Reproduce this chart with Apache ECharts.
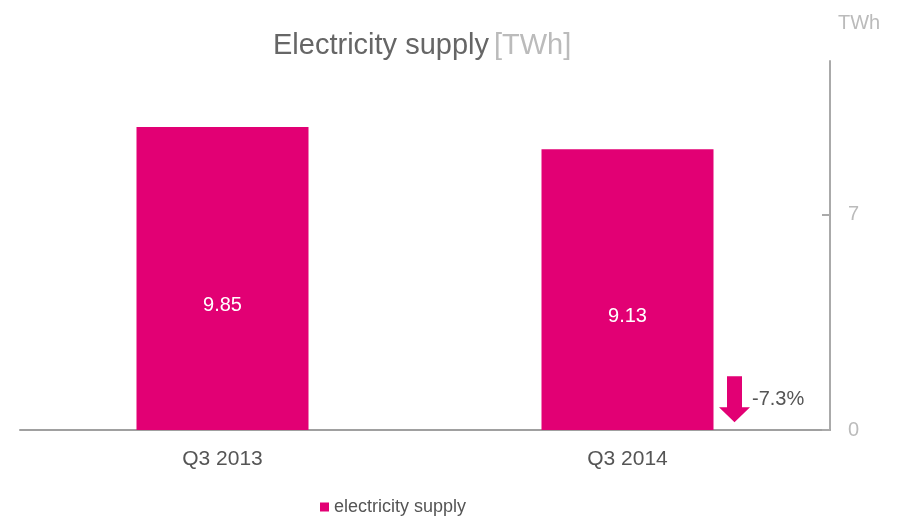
<!DOCTYPE html>
<html>
<head>
<meta charset="utf-8">
<script src="https://cdn.jsdelivr.net/npm/echarts@6/dist/echarts.min.js"></script>
<style>
  html, body { margin: 0; padding: 0; background: #fff; }
  #chart { width: 897px; height: 517px; }
</style>
</head>
<body>
<div id="chart"></div>
<script>
const categories = ['Q3 2013', 'Q3 2014'];
const supply = [9.85, 9.13];
const yTicks = [0, 7];
const seriesName = 'electricity supply';

const MAGENTA = '#E20074';
const FONT = 'Arial, "Liberation Sans", sans-serif';

// change between the two quarters, shown next to the arrow
const change = (supply[1] - supply[0]) / supply[0] * 100;

const chart = echarts.init(document.getElementById('chart'));

const option = {
    animation: false,
    textStyle: { fontFamily: FONT },
    title: {
        text: '{a|Electricity supply} {b|[TWh]}',
        left: 268,
        top: 26,
        textStyle: {
            fontWeight: 'normal',
            rich: {
                a: { fontSize: 29, color: '#666', fontWeight: 'normal', fontFamily: FONT },
                b: { fontSize: 29, color: '#bbb', fontWeight: 'normal', fontFamily: FONT },
            },
        },
    },
    legend: {
        data: [seriesName],
        left: 315,
        top: 493,
        icon: 'rect',
        itemWidth: 9,
        itemHeight: 9,
        textStyle: { fontSize: 18, color: '#555', fontFamily: FONT },
    },
    grid: {
        left: 20,
        right: 67,
        top: 61,
        bottom: 87,
    },
    xAxis: {
        type: 'category',
        data: categories,
        axisLine: { lineStyle: { color: '#a0a0a0', width: 2 } },
        axisTick: { show: false },
        axisLabel: { fontSize: 21, color: '#555', margin: 19, fontFamily: FONT },
    },
    yAxis: {
        type: 'value',
        position: 'right',
        min: 0,
        max: 12,
        name: 'TWh',
        nameLocation: 'end',
        nameGap: 28,
        nameTextStyle: { fontSize: 20, color: '#bbb', align: 'left', padding: [0, 0, 0, 8], fontFamily: FONT },
        axisLine: { show: true, lineStyle: { color: '#aaa', width: 2 } },
        axisTick: {
            show: true,
            inside: true,
            length: 8,
            customValues: yTicks,
            lineStyle: { color: '#aaa', width: 2 },
        },
        splitLine: { show: false },
        axisLabel: {
            fontSize: 20,
            color: '#bbb',
            margin: 18,
            fontFamily: FONT,
            customValues: yTicks,
        },
    },
    series: [
        {
            name: seriesName,
            type: 'bar',
            data: supply,
            barWidth: 172,
            itemStyle: { color: MAGENTA },
            label: {
                show: true,
                position: 'inside',
                offset: [0, 27],
                color: '#fff',
                fontSize: 20,
                fontFamily: FONT,
            },
            markPoint: {
                silent: true,
                data: [
                    {
                        coord: [categories[1], 1],
                        symbol: 'path://M8,0 L23,0 L23,31 L31,31 L15.5,46 L0,31 L8,31 Z',
                        symbolSize: [31, 46],
                        symbolOffset: [107, 0],
                        itemStyle: { color: MAGENTA },
                        label: {
                            show: true,
                            position: 'right',
                            distance: 2,
                            formatter: change.toFixed(1) + '%',
                            color: '#555',
                            fontSize: 20,
                            fontFamily: FONT,
                        },
                    },
                ],
            },
        },
    ],
};

chart.setOption(option);

window.addEventListener('resize', () => {
    chart.resize();
});
</script>
</body>
</html>
